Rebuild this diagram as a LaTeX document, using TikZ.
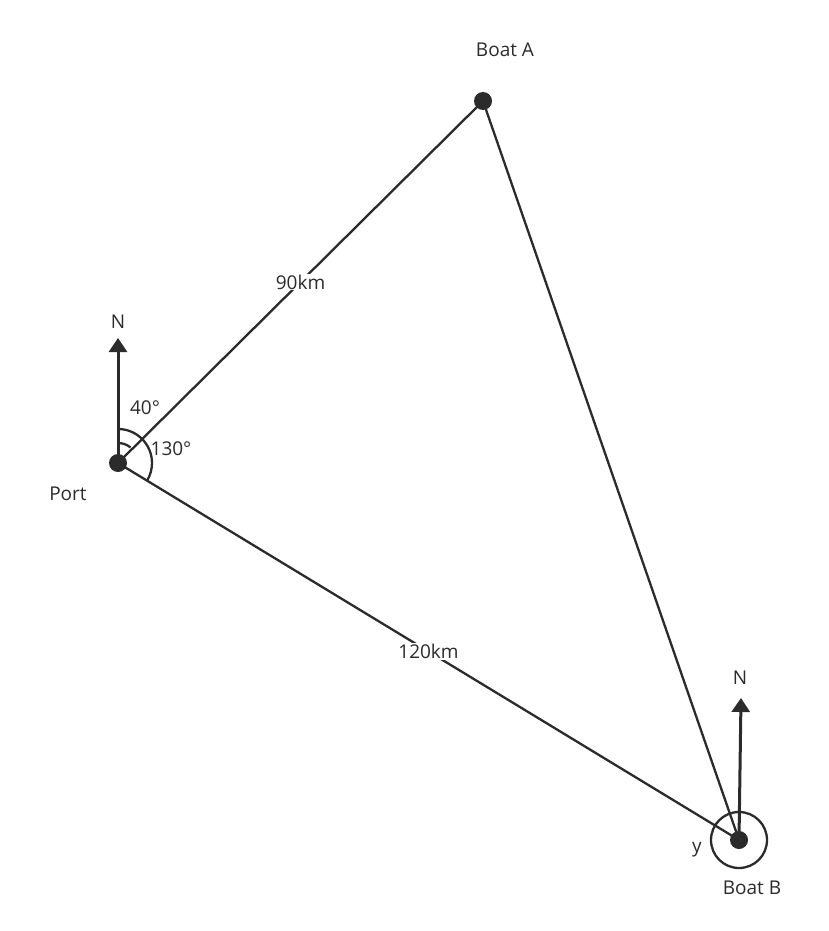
\documentclass[tikz,border=0pt]{standalone}
\usepackage{fontspec}
\setmainfont{Open Sans}
\usetikzlibrary{arrows.meta}
\definecolor{ink}{HTML}{2B2B2B}
\tikzset{
  leg/.style={ink, line width=2.3pt},
  north/.style={ink, line width=3pt, -{Triangle[length=14pt,width=18pt]}},
  dot/.style={circle, fill=ink, inner sep=0pt, minimum size=18pt},
  lbl/.style={text=ink, font=\fontsize{19}{22}\selectfont}
}
\begin{document}
\begin{tikzpicture}[x=1pt,y=-1pt]
		\useasboundingbox (0,0) rectangle (828,931);
		% Points
		\node [dot] (port) at (118,463) {};
		\node [dot] (boatA) at (483,101) {};
		\node [dot] (boatB) at (739,840) {};
		\coordinate (nport) at (118,338);
		\coordinate (nboat) at (741,698);
		% Triangle
		\draw [leg] (port.center) -- node [lbl, fill=white, inner sep=1pt] {90km} (boatA.center);
		\draw [leg] (boatA.center) -- (boatB.center);
		\draw [leg] (port.center) -- node [lbl, fill=white, inner sep=1pt] {120km} (boatB.center);
		% North arrows
		\draw [north] (port.center) -- (nport);
		\draw [north] (boatB.center) -- (nboat);
		% Angles
		\draw [leg] (118,443) arc [start angle=-90, end angle=-51, radius=20];
		\draw [leg] (118,429) arc [start angle=-90, end angle=31, radius=34];
		\draw [leg] (boatB) circle (28);
		% Labels
		\node [lbl] (lA) at (505,50) {Boat A};
		\node [lbl] (lN1) at (118,322) {N};
		\node [lbl] (l40) at (145,408) {40°};
		\node [lbl] (l130) at (171,449) {130°};
		\node [lbl] (lport) at (68,494) {Port};
		\node [lbl] (lN2) at (740,678) {N};
		\node [lbl] (ly) at (697,850) {y};
		\node [lbl] (lB) at (752,888) {Boat B};
\end{tikzpicture}
\end{document}
